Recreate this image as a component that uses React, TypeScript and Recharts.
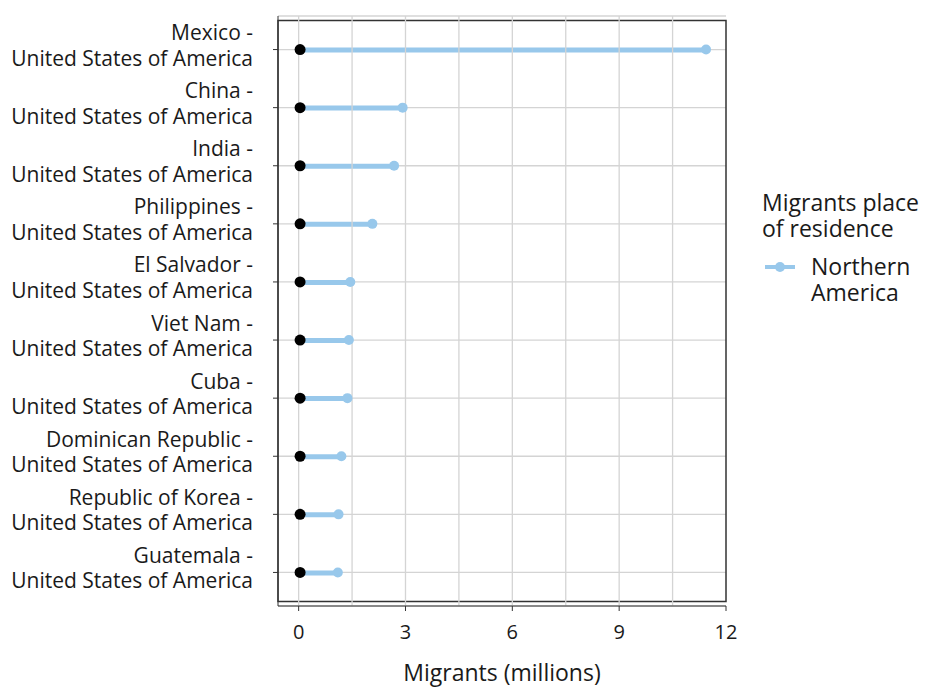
import React from "react";
import {
  Bar,
  CartesianGrid,
  ComposedChart,
  Label,
  ReferenceArea,
  ReferenceLine,
  Scatter,
  XAxis,
  YAxis,
} from "recharts";

const origins = [
  "Mexico",
  "China",
  "India",
  "Philippines",
  "El Salvador",
  "Viet Nam",
  "Cuba",
  "Dominican Republic",
  "Republic of Korea",
  "Guatemala",
];
const destination = "United States of America";
const startValues = [0.04, 0.04, 0.04, 0.04, 0.04, 0.04, 0.04, 0.04, 0.04, 0.04];
const endValues = [11.44, 2.92, 2.68, 2.07, 1.45, 1.41, 1.37, 1.2, 1.12, 1.1];
const xTicks = [0, 3, 6, 9, 12];
const gridX = [0, 1.5, 3, 4.5, 6, 7.5, 9, 10.5];
const xDomain: [number, number] = [-0.58, 12];
const legendTitle = ["Migrants place", "of residence"];
const legendItem = ["Northern", "America"];

const data = origins.map((o, i) => ({
  name: o,
  start: startValues[i],
  end: endValues[i],
  range: [startValues[i], endValues[i]],
}));

const BLUE = "#98c8eb";
const FONT = "'Open Sans', sans-serif";
const TEXT = "#1a1a1a";

function CorridorTick(props: any) {
  const { x, y, payload } = props;
  return (
    <text x={x} y={y} textAnchor="end" fontSize={21} fill={TEXT} fontFamily={FONT}>
      <tspan x={x} dy={-9.5}>{`${payload.value} -`}</tspan>
      <tspan x={x} dy={25.5}>{destination}</tspan>
    </text>
  );
}

function LegendBox() {
  return (
    <div
      style={{
        position: "absolute",
        left: 762,
        top: 189,
        fontFamily: FONT,
        color: TEXT,
        fontSize: 23,
        lineHeight: "26px",
      }}
    >
      {legendTitle.map((t) => (
        <div key={t}>{t}</div>
      ))}
      <div style={{ display: "flex", marginTop: 12 }}>
        <svg width={49} height={26} style={{ display: "block" }}>
          <line x1={3} x2={33} y1={14} y2={14} stroke={BLUE} strokeWidth={4} />
          <circle cx={18} cy={14} r={5} fill={BLUE} />
        </svg>
        <div>
          {legendItem.map((t) => (
            <div key={t}>{t}</div>
          ))}
        </div>
      </div>
    </div>
  );
}

export default function App() {
  return (
    <div style={{ position: "absolute", left: 0, top: 0, width: 925, height: 688, background: "#fff" }}>
      <ComposedChart
        width={925}
        height={688}
        data={data}
        layout="vertical"
        margin={{ top: 16, right: 199, bottom: 0, left: 0 }}
      >
        <CartesianGrid vertical={false} stroke="#d4d4d4" strokeWidth={1.3} />
        {gridX.map((v) => (
          <ReferenceLine key={v} x={v} stroke="#d4d4d4" strokeWidth={1.3} />
        ))}
        <XAxis
          type="number"
          domain={xDomain}
          ticks={xTicks}
          allowDataOverflow
          height={82}
          tickSize={5}
          tickMargin={14}
          axisLine={{ stroke: "#333" }}
          tickLine={{ stroke: "#333" }}
          tick={{ fill: TEXT, fontSize: 20, fontFamily: FONT }}
        >
          <Label
            value="Migrants (millions)"
            position="insideBottom"
            offset={7}
            style={{ fill: TEXT, fontSize: 23, fontFamily: FONT }}
          />
        </XAxis>
        <YAxis
          type="category"
          dataKey="name"
          width={278}
          padding={{ top: 4.5, bottom: 4.5 }}
          tickSize={5}
          tickMargin={20}
          axisLine={{ stroke: "#333" }}
          tickLine={{ stroke: "#333" }}
          tick={<CorridorTick />}
          interval={0}
        />
        <Bar dataKey="range" fill={BLUE} barSize={5} isAnimationActive={false} />
        <Scatter
          dataKey="end"
          isAnimationActive={false}
          shape={(p: any) => <circle cx={p.cx} cy={p.cy} r={5} fill={BLUE} />}
        />
        <Scatter
          dataKey="start"
          isAnimationActive={false}
          shape={(p: any) => <circle cx={p.cx} cy={p.cy} r={5.5} fill="#000" />}
        />
        <ReferenceArea
          x1={xDomain[0]}
          x2={xDomain[1]}
          fill="none"
          fillOpacity={0}
          stroke="#333"
          strokeWidth={1.5}
          ifOverflow="visible"
        />
      </ComposedChart>
      <LegendBox />
    </div>
  );
}
